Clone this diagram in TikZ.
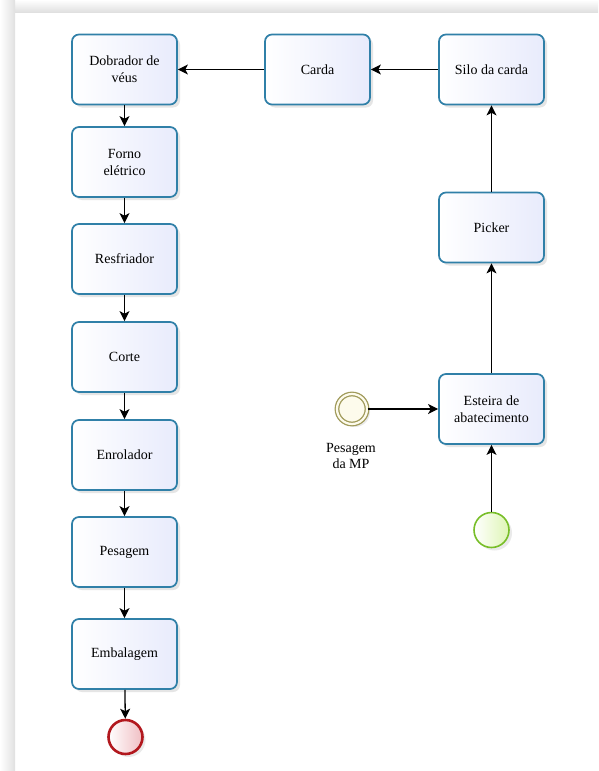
\documentclass[tikz,border=0pt]{standalone}
\usepackage{fontspec}
\setmainfont{Liberation Serif}
\usetikzlibrary{arrows.meta,shadows}
\definecolor{taskblue}{RGB}{48,128,168}
\definecolor{taskfill}{RGB}{232,235,252}
\definecolor{endred}{RGB}{178,24,30}
\definecolor{endfill}{RGB}{240,190,195}
\definecolor{startgreen}{RGB}{120,190,40}
\definecolor{startfill}{RGB}{222,245,180}
\definecolor{midolive}{RGB}{160,154,90}
\definecolor{midfill}{RGB}{253,251,236}
\tikzset{
  task/.style={draw=taskblue, line width=1.7pt, rounded corners=7pt,
    left color=white, right color=taskfill,
    minimum width=105pt, minimum height=70pt, align=center,
    font=\rmfamily\fontsize{14}{17}\selectfont,
    drop shadow={shadow xshift=3pt, shadow yshift=-3pt, opacity=0.25, fill=black!40}},
  flow/.style={line width=1.3pt, -{Stealth[length=10pt,width=10pt,inset=2.5pt]}},
  endevent/.style={circle, draw=endred, line width=2.6pt, minimum size=34pt,
    left color=white, right color=endfill,
    drop shadow={shadow xshift=3pt, shadow yshift=-3pt, opacity=0.2, fill=black!40}},
  startevent/.style={circle, draw=startgreen, line width=1.6pt, minimum size=35pt,
    left color=white, right color=startfill,
    drop shadow={shadow xshift=3pt, shadow yshift=-3pt, opacity=0.2, fill=black!40}},
  midevent/.style={circle, draw=midolive, line width=1.3pt, double=midfill,
    double distance=2.2pt, minimum size=30pt, fill=midfill,
    drop shadow={shadow xshift=3pt, shadow yshift=-3pt, opacity=0.2, fill=black!40}},
}

\begin{document}
\begin{tikzpicture}[x=1pt, y=-1pt]
	\useasboundingbox (0, 0) rectangle (598, 771);
	%%%%% FRAME %%%%%
	\fill[white] (0, 0) rectangle (598, 771);
	\fill[left color=white, right color=black!12] (0, 12) rectangle (15, 771);
	\fill[top color=white, bottom color=black!12] (15, 0) rectangle (598, 12);
	\fill[left color=white, right color=black!12] (0, 0) rectangle (15, 12);
	
	%%%%% LEFT COLUMN %%%%%
	\node[task] (dobrador) at (124.5, 69.5) {Dobrador de\\véus};
	\node[task] (forno) at (124.5, 162) {Forno\\elétrico};
	\node[task] (resfriador) at (124.5, 259) {Resfriador};
	\node[task] (corte) at (124.5, 357) {Corte};
	\node[task] (enrolador) at (124.5, 455) {Enrolador};
	\node[task] (pesagem) at (124.5, 552) {Pesagem};
	\node[task] (embalagem) at (124.5, 654) {Embalagem};
	\node[endevent] (fim) at (125.5, 737) {};
	
	%%%%% RIGHT COLUMN %%%%%
	\node[task] (carda) at (317.5, 69.5) {Carda};
	\node[task] (silo) at (491.5, 69.5) {Silo da carda};
	\node[task] (picker) at (491.5, 227.5) {Picker};
	\node[task] (esteira) at (491.5, 409) {Esteira de\\abatecimento};
	\node[startevent] (inicio) at (491.5, 530) {};
	\node[midevent] (pesagemmp) at (352, 409) {};
	\node[align=center, font=\rmfamily\fontsize{14}{16}\selectfont] (rotulomp) at (351, 456) {Pesagem\\da MP};
	
	%%%%% FLOWS %%%%%
	\draw[flow] (inicio) -- (esteira);
	\draw[flow] (pesagemmp) -- (esteira);
	\draw[flow] (esteira) -- (picker);
	\draw[flow] (picker) -- (silo);
	\draw[flow] (silo) -- (carda);
	\draw[flow] (carda) -- (dobrador);
	\draw[flow] (dobrador) -- (forno);
	\draw[flow] (forno) -- (resfriador);
	\draw[flow] (resfriador) -- (corte);
	\draw[flow] (corte) -- (enrolador);
	\draw[flow] (enrolador) -- (pesagem);
	\draw[flow] (pesagem) -- (embalagem);
	\draw[flow] (embalagem) -- (fim);
	%%%%% END %%%%%
\end{tikzpicture}
\end{document}
